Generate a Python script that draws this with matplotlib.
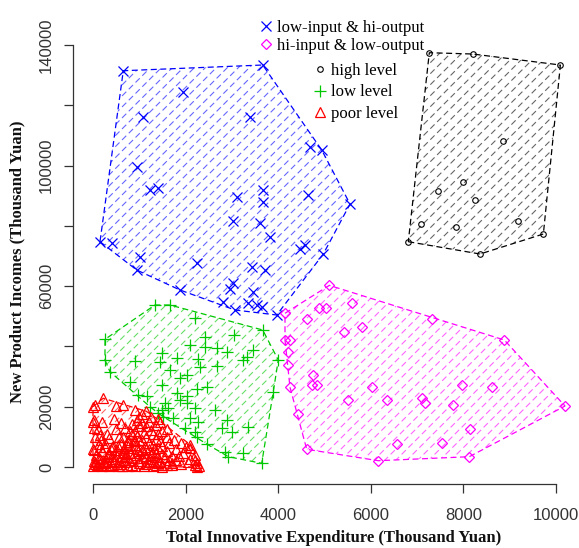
import numpy as np
import matplotlib
matplotlib.use("Agg")
import matplotlib.pyplot as plt
from matplotlib.patches import Polygon
from matplotlib.lines import Line2D

# ---------------- data (Thousand Yuan) ----------------
blue_x = [654, 3666, 1950, 1086, 3391, 4687, 4940, 944, 1231, 1410, 3678, 3104, 3678, 4650,
          5551, 3030, 3607, 3823, 151, 404, 1015, 2240, 4471, 4579, 4974, 944, 3428, 3715,
          3030, 2959, 1879, 3462, 3354, 3536, 3644, 2814, 3067, 3968]
blue_y = [131470, 133363, 124504, 116210, 116210, 106059, 105165, 99425, 91895, 92459, 91895,
          89672, 88014, 90236, 87250, 81710, 80847, 76402, 74744, 74412, 69768, 67578, 72223,
          73650, 70663, 65355, 66250, 65355, 60943, 58952, 58720, 58156, 54308, 53744, 53180,
          54839, 52085, 50426]

mag_x = [5104, 4888, 5033, 5588, 4147, 4616, 7316, 5422, 5804, 8884, 4147, 4255, 4218, 4218,
         4255, 4758, 4724, 4832, 6020, 7964, 8612, 5514, 6344, 7100, 7171, 7769, 10195, 4434,
         8143, 6560, 7532, 4616, 6162, 8128]
mag_y = [60260, 52650, 52650, 54308, 50990, 49000, 49000, 44886, 46545, 42132, 42132, 42132,
         38250, 33838, 26440, 30521, 27203, 27203, 26440, 27203, 26640, 22227, 22227, 22791,
         21133, 20568, 20237, 17583, 12507, 7630, 7862, 5872, 2090, 3417]

blk_x = [7264, 8202, 10095, 8862, 7458, 7998, 8251, 7078, 7841, 9186, 9727, 6810, 8359]
blk_y = [137444, 137013, 133364, 108251, 91664, 94650, 88577, 80615, 79520, 81710, 77298,
         74744, 70663]

grn_x = [1339, 1663, 2203, 3666, 259, 2419, 3046, 2095, 2419, 2672, 2888, 3462, 1484, 3320,
         4002, 259, 907, 1808, 2274, 1447, 3246, 2311, 2672, 367, 1663, 2024, 1879, 799, 1484,
         2456, 2240, 978, 1160, 1808, 2024, 3894, 1555, 1879, 2024, 1231, 1484, 1626, 2203,
         2635, 1410, 1518, 1734, 2095, 2274, 2888, 2780, 2996, 3354, 1987, 2203, 2240, 2456,
         2851, 2923, 3246, 3644]
grn_y = [53744, 53744, 49331, 45450, 42365, 43227, 43791, 40474, 39910, 39379, 38250, 38815,
         37919, 36592, 35497, 35497, 35265, 36061, 35729, 34933, 35497, 33275, 33507, 31616,
         32180, 30521, 29426, 28298, 27204, 26640, 25777, 23886, 23554, 24450, 23554, 24981,
         21133, 22227, 21133, 20004, 18910, 19474, 19474, 18910, 17815, 16687, 16156, 16156,
         15028, 15592, 12839, 11711, 13369, 12839, 11711, 10052, 7630, 5076, 3417, 4545, 1227]

red_x = [50, 220, 500, 650, 900, 200, 0, 450, 50, 300, 1000, 1200, 1450, 1600, 1650, 2100,
         1950, 2100, 2250, 1350, 1550, 1200, 1700, 1900,
         100, 250, 400, 550, 700, 850, 1000, 1150, 1300, 1450,
         150, 300, 480, 620, 780, 930, 1080, 1230, 1380, 60,
         200, 350, 520, 680, 820, 980, 1120, 1280, 430, 600,
         760, 900, 1050, 1200, 1350, 250, 950, 1100, 800, 650,
         1250, 1000, 850, 700, 1400, 1500, 1800, 1100, 350, 150,
         50, 80, 200, 350, 600, 900, 1100, 1500, 1400, 750, 450, 300, 1000, 650, 850, 1200,
         1650, 1500, 950, 1300, 1150, 500, 100, 600, 900,
         0, 0, 2300, 180, 420, 720, 1020, 1320, 560, 880,
         20, 120, 220, 320, 420, 520, 620, 20, 120, 260, 380, 540, 680, 40, 160, 280, 400,
         520, 700, 620,
         750, 850, 950, 1050, 1150, 1250, 1050, 1150, 1350, 1400, 1500, 1300, 1000, 900, 1200,
         1400, 1600, 1700, 1800, 1600, 1300, 1150, 1050, 800, 750, 1250, 1450, 1600, 1750, 1350,
         2000, 1900, 2200, 1850, 2050, 2200,
         0, 20, 20, 150, 2095, 2200, 2240, 1700, 1500]
red_y = [20500, 22800, 20300, 20500, 18800, 15000, 15000, 16000, 10000, 11000, 16500, 15000,
         15000, 12500, 8000, 7400, 4700, 2500, 1400, 4500, 3300, 1500, 1200, 1000,
         500, 1200, 800, 300, 1500, 600, 2000, 900, 400, 1800,
         2500, 3200, 2800, 3600, 2400, 3900, 3100, 2600, 3400, 3900,
         5200, 4600, 5800, 5000, 6200, 5400, 6600, 5100, 7000, 7600,
         8300, 7200, 8800, 7900, 9200, 8000, 10300, 11400, 11800, 9800,
         12300, 13500, 14200, 12800, 10800, 7000, 5900, 4700, 9600, 6600,
         1700, 700, 300, 200, 1100, 200, 300, 500, 1200, 200, 1800, 2000, 1200, 2300, 3000, 1700,
         2300, 4300, 6000, 7300, 9800, 12500, 12500, 14500, 12000,
         300, 6000, 300, 9000, 6500, 4200, 4500, 6000, 10000, 9000,
         2000, 3000, 1800, 4200, 3500, 1000, 4800, 5500, 7500, 6500, 6000, 7000, 6400, 900,
         1400, 600, 2600, 3800, 3200, 200,
         9000, 10800, 15500, 17500, 18500, 16500, 14500, 13500, 13800, 15800, 12000, 11000,
         9000, 8500, 6000, 6300, 5300, 3800, 2200, 800, 2100, 3700, 5800, 4600, 7000, 4000,
         8500, 10000, 9000, 500,
         6500, 7900, 4000, 3500, 1500, 600,
         20000, 15600, 13000, 10600, 6300, 2300, 0, 500, 100]

x_ticks = [0, 2000, 4000, 6000, 8000, 10000]
y_ticks = [0, 20000, 40000, 60000, 80000, 100000, 120000, 140000]
y_ticklabels = ["0", "20000", "", "60000", "", "100000", "", "140000"]

legend_labels_1 = ["low-input & hi-output", "hi-input & low-output"]
legend_labels_2 = ["high level", "low level", "poor level"]

# ---------------- figure ----------------
W, H = 579, 548
fig = plt.figure(figsize=(W / 100, H / 100), dpi=100)
ax = fig.add_axes([73 / W, 64 / H, (W - 73) / W, (484 - 41) / H])
ax.set_xlim(-432, 10497)
ax.set_ylim(-5640, 141330)

for s in ("top", "right"):
    ax.spines[s].set_visible(False)
ax.spines["left"].set_bounds(0, 140000)
ax.spines["bottom"].set_bounds(0, 10000)
for s in ("left", "bottom"):
    ax.spines[s].set_linewidth(0.9)
    ax.spines[s].set_color("#333333")

ax.set_xticks(x_ticks)
ax.set_xticklabels([str(v) for v in x_ticks])
ax.set_yticks(y_ticks)
ax.set_yticklabels(y_ticklabels)
ax.tick_params(axis="both", direction="out", length=6.5, width=0.9, color="#333333",
               labelsize=12, labelcolor="#333333")
ax.tick_params(axis="x", pad=11)
ax.tick_params(axis="y", pad=7)
for lab in ax.get_xticklabels() + ax.get_yticklabels():
    lab.set_family(["Liberation Sans", "DejaVu Sans"])
for lab in ax.get_yticklabels():
    lab.set_rotation(90)
    lab.set_va("center")


def convex_hull(xs, ys):
    pts = sorted(set(zip(xs, ys)))

    def cross(o, a, b):
        return (a[0] - o[0]) * (b[1] - o[1]) - (a[1] - o[1]) * (b[0] - o[0])

    lower = []
    for p in pts:
        while len(lower) >= 2 and cross(lower[-2], lower[-1], p) <= 0:
            lower.pop()
        lower.append(p)
    upper = []
    for p in reversed(pts):
        while len(upper) >= 2 and cross(upper[-2], upper[-1], p) <= 0:
            upper.pop()
        upper.append(p)
    return np.array(lower[:-1] + upper[:-1], dtype=float)


def hatched_hull(xs, ys, color, spacing=11.0):
    verts = convex_hull(xs, ys)
    clip = Polygon(verts, closed=True, facecolor="none", edgecolor="none",
                   transform=ax.transData)
    ax.add_patch(clip)
    disp = ax.transData.transform(verts)
    xmin, ymin = disp.min(0)
    xmax, ymax = disp.max(0)
    inv = ax.transData.inverted()
    cmin = ymin - xmax
    cmax = ymax - xmin
    c = np.floor(cmin / spacing) * spacing
    while c <= cmax:
        p = np.array([[xmin - 5, xmin - 5 + c], [xmax + 5, xmax + 5 + c]])
        d = inv.transform(p)
        ln, = ax.plot(d[:, 0], d[:, 1], color=color, lw=0.8, alpha=0.6,
                      dashes=(5.4, 3.2), zorder=1)
        ln.set_clip_path(clip)
        c += spacing
    border = Polygon(verts, closed=True, facecolor="none", edgecolor=color,
                     linewidth=0.9, linestyle=(0, (4.8, 2.8)), zorder=2)
    ax.add_patch(border)


BLUE, MAG, BLK, GRN, RED = "#0000FF", "#FF00FF", "#000000", "#00C800", "#FF0000"

hatched_hull(blue_x, blue_y, BLUE)
hatched_hull(mag_x, mag_y, MAG)
hatched_hull(blk_x, blk_y, BLK)
hatched_hull(grn_x, grn_y, GRN)
hatched_hull(red_x, red_y, RED)

ax.plot(blue_x, blue_y, "x", color=BLUE, ms=7, mew=0.9, zorder=3)
ax.plot(mag_x, mag_y, "D", color=MAG, mfc="none", ms=5.5, mew=0.9, zorder=3)
ax.plot(blk_x, blk_y, "o", color=BLK, mfc="none", ms=4, mew=0.8, zorder=3)
ax.plot(grn_x, grn_y, "+", color=GRN, ms=8.5, mew=0.9, zorder=3)
ax.plot(red_x, red_y, "^", color=RED, mfc="none", ms=7, mew=0.9, zorder=3)

# ---------------- legends ----------------
h1 = [Line2D([], [], ls="none", marker="x", color=BLUE, ms=7, mew=0.9),
      Line2D([], [], ls="none", marker="D", color=MAG, mfc="none", ms=5.5, mew=0.9)]
h2 = [Line2D([], [], ls="none", marker="o", color=BLK, mfc="none", ms=4, mew=0.8),
      Line2D([], [], ls="none", marker="+", color=GRN, ms=8.5, mew=0.9),
      Line2D([], [], ls="none", marker="^", color=RED, mfc="none", ms=7, mew=0.9)]
lkw = dict(frameon=False, loc="upper left", bbox_transform=fig.transFigure,
           borderpad=0, borderaxespad=0, handlelength=0.8, handletextpad=0.3,
           prop={"family": ["Liberation Serif", "DejaVu Serif"], "size": 12})
leg1 = ax.legend(h1, legend_labels_1, bbox_to_anchor=(259 / W, 1 - 19.5 / H),
                 labelspacing=0.15, **lkw)
ax.add_artist(leg1)
leg2 = ax.legend(h2, legend_labels_2, bbox_to_anchor=(313 / W, 1 - 63 / H),
                 labelspacing=0.33, **lkw)

# ---------------- axis titles ----------------
fig.text(334 / W, 1 - 538 / H, "Total Innovative Expenditure (Thousand Yuan)",
         ha="center", va="center", fontsize=12, fontweight="bold",
         family=["Liberation Serif", "DejaVu Serif"], color="#111111")
fig.text(17 / W, 1 - 262 / H, "New Product Incomes (Thousand Yuan)",
         ha="center", va="center", rotation=90, fontsize=12, fontweight="bold",
         family=["Liberation Serif", "DejaVu Serif"], color="#111111")

fig.savefig("out.png", dpi=100)
